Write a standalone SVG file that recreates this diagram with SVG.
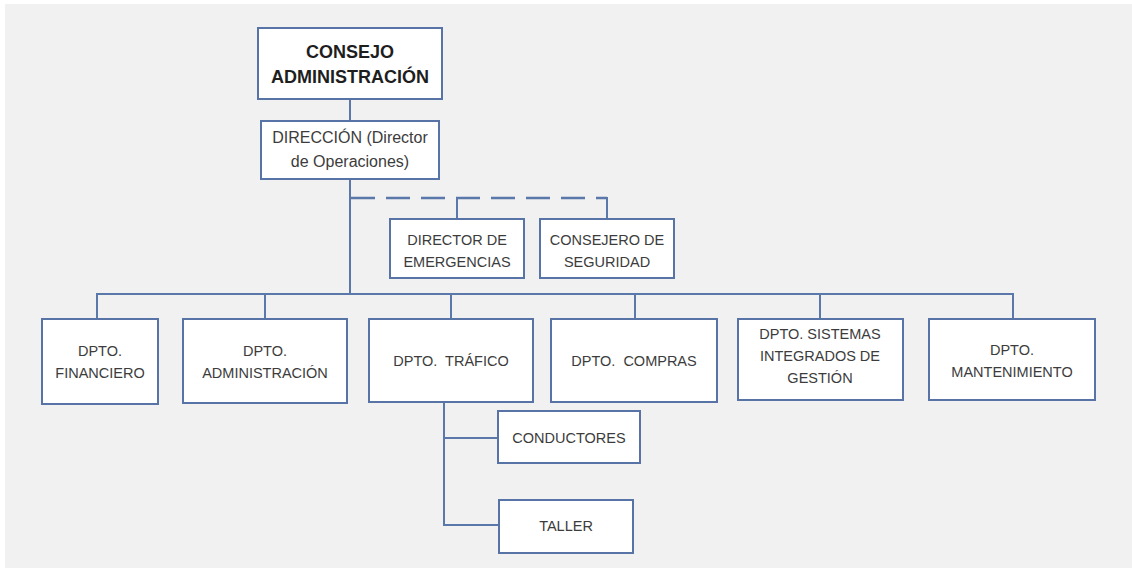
<svg xmlns="http://www.w3.org/2000/svg" width="1132" height="568" viewBox="0 0 1132 568">
<style>
.box{fill:#ffffff;stroke:#5874a6;stroke-width:2}
.ln{fill:none;stroke:#5a78aa;stroke-width:2}
.dash{fill:none;stroke:#5a78aa;stroke-width:2.5;stroke-dasharray:24 11}
text{font-family:"Liberation Sans",Arial,sans-serif;font-size:14.5px;fill:#3c3c3c;text-anchor:middle}
.b{font-weight:bold;font-size:18px;fill:#1e1e1e}
.d{font-size:16px}
</style>
<rect x="0" y="0" width="1132" height="568" fill="#ffffff"/>
<rect x="5" y="4" width="1127" height="564" fill="#f1f1f1"/>
<g id="connectors">
<path class="ln" d="M350 99V121"/>
<path class="ln" d="M350 179V294"/>
<path class="ln" d="M97 319V294H1013V319"/>
<path class="ln" d="M265 294V319M451 294V319M635 294V319M820 294V319"/>
<path class="dash" d="M351 198H607"/>
<path class="ln" d="M607 197V219M457 198V219"/>
<path class="ln" d="M444 402V525H499M444 438H498"/>
</g>
<g id="consejo">
<rect class="box" x="258" y="28" width="184" height="71"/>
<text class="b" x="350" y="58">CONSEJO</text>
<text class="b" x="350" y="83">ADMINISTRACIÓN</text>
</g>
<g id="direccion">
<rect class="box" x="261" y="121" width="178" height="58"/>
<text class="d" x="350" y="143">DIRECCIÓN (Director</text>
<text class="d" x="350" y="167">de Operaciones)</text>
</g>
<g id="director-emergencias">
<rect class="box" x="390" y="219" width="134" height="59"/>
<text x="457" y="245">DIRECTOR DE</text>
<text x="457" y="267">EMERGENCIAS</text>
</g>
<g id="consejero-seguridad">
<rect class="box" x="540" y="219" width="134" height="59"/>
<text x="607" y="245">CONSEJERO DE</text>
<text x="607" y="267">SEGURIDAD</text>
</g>
<g id="dpto-financiero">
<rect class="box" x="42" y="319" width="116" height="85"/>
<text x="100" y="356">DPTO.</text>
<text x="100" y="378">FINANCIERO</text>
</g>
<g id="dpto-administracion">
<rect class="box" x="183" y="319" width="164" height="84"/>
<text x="265" y="356">DPTO.</text>
<text x="265" y="378">ADMINISTRACIÓN</text>
</g>
<g id="dpto-trafico">
<rect class="box" x="369" y="319" width="164" height="83"/>
<text x="451" y="366" xml:space="preserve">DPTO.  TRÁFICO</text>
</g>
<g id="dpto-compras">
<rect class="box" x="551" y="319" width="166" height="83"/>
<text x="634" y="366" xml:space="preserve">DPTO.  COMPRAS</text>
</g>
<g id="dpto-sistemas">
<rect class="box" x="738" y="319" width="165" height="81"/>
<text x="820" y="339">DPTO. SISTEMAS</text>
<text x="820" y="361">INTEGRADOS DE</text>
<text x="820" y="383">GESTIÓN</text>
</g>
<g id="dpto-mantenimiento">
<rect class="box" x="929" y="319" width="166" height="81"/>
<text x="1012" y="355">DPTO.</text>
<text x="1012" y="377">MANTENIMIENTO</text>
</g>
<g id="conductores">
<rect class="box" x="498" y="411" width="142" height="52"/>
<text x="569" y="443">CONDUCTORES</text>
</g>
<g id="taller">
<rect class="box" x="499" y="500" width="134" height="53"/>
<text x="566" y="531">TALLER</text>
</g>
</svg>
